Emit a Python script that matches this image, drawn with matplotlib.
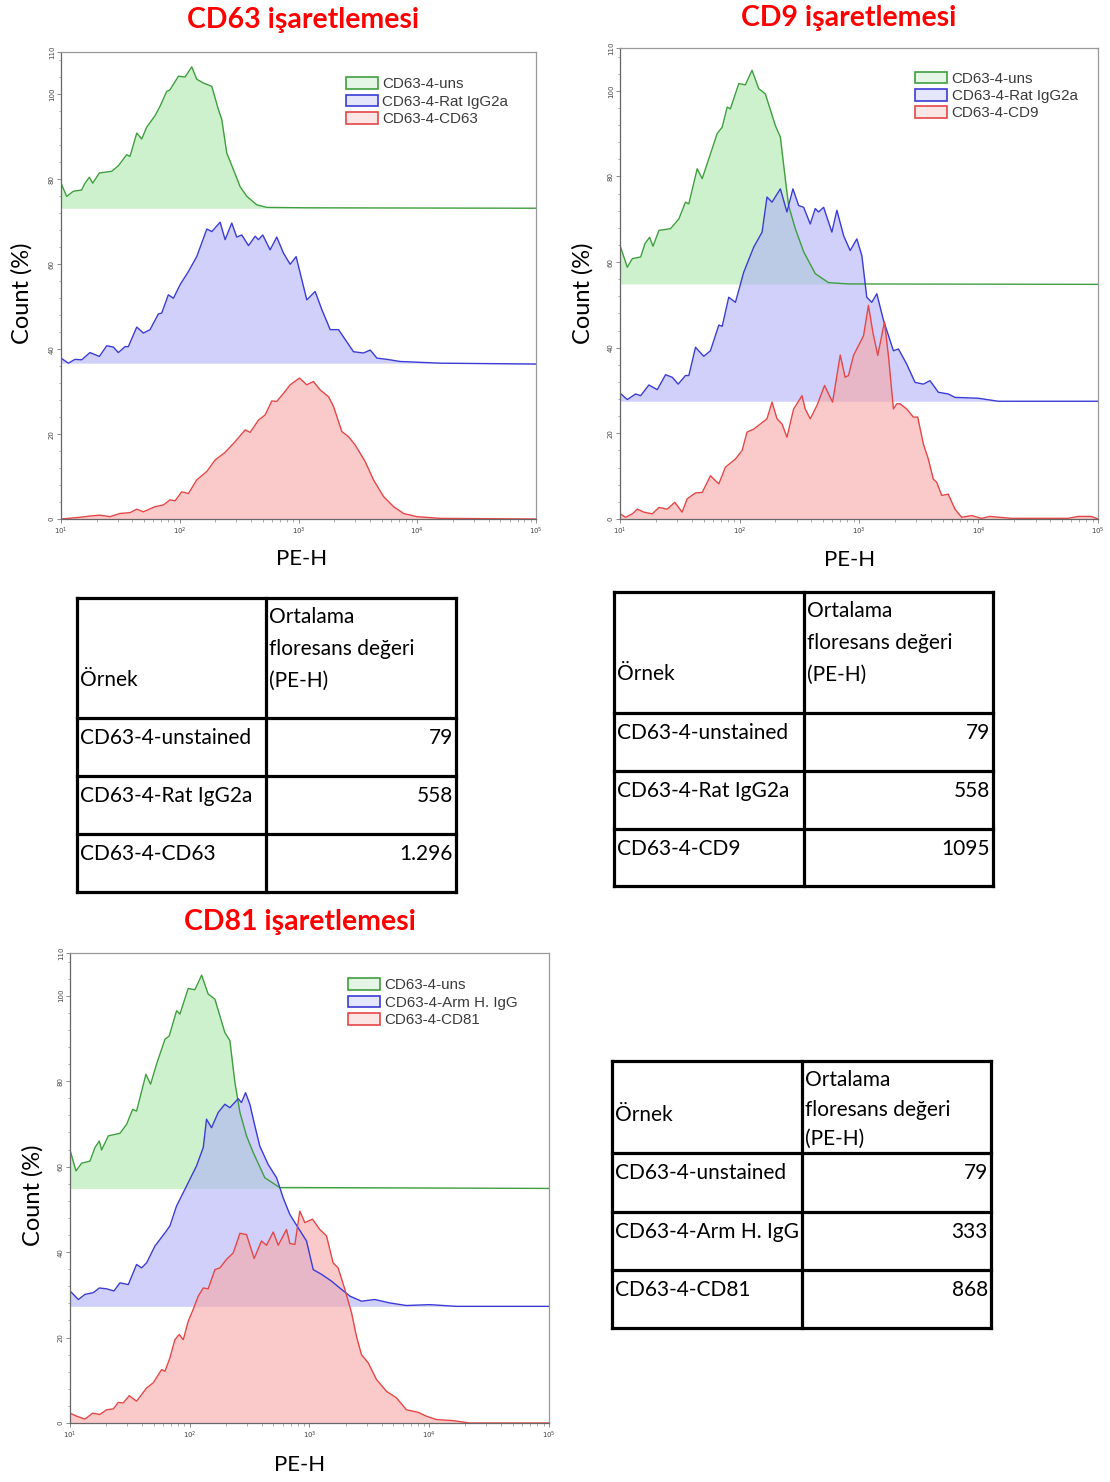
import numpy as np
import matplotlib.pyplot as plt
from matplotlib.patches import Patch
from matplotlib.ticker import MultipleLocator, FixedLocator, LogLocator, NullFormatter

# ---------------- data (x as log10 PE-H, y as count % incl. overlay offset) -------------
# CD63 panel
cd63_uns_x = [1.0, 1.048, 1.104, 1.174, 1.202, 1.239, 1.267, 1.323, 1.427, 1.483, 1.553, 1.581, 1.638, 1.680,
              1.722, 1.792, 1.834, 1.890, 1.918, 1.989, 2.045, 2.101, 2.143, 2.199, 2.270, 2.326, 2.354, 2.396,
              2.452, 2.508, 2.565, 2.649, 2.733, 3.07, 5.0]
cd63_uns_y = [79.1, 76.0, 77.2, 77.5, 79.1, 80.5, 79.1, 81.5, 81.9, 83.2, 85.8, 85.4, 90.9, 89.5,
              92.3, 95.0, 97.2, 100.7, 101.1, 104.3, 104.1, 106.5, 103.6, 102.7, 101.9, 96.4, 94.1, 86.2,
              82.3, 78.3, 76.0, 74.0, 73.4, 73.3, 73.2]
cd63_rat_x = [1.0, 1.062, 1.118, 1.174, 1.244, 1.323, 1.385, 1.441, 1.483, 1.539, 1.567, 1.638, 1.694, 1.750,
              1.820, 1.848, 1.904, 1.947, 2.003, 2.073, 2.143, 2.228, 2.270, 2.340, 2.382, 2.438, 2.480, 2.522,
              2.579, 2.635, 2.663, 2.699, 2.761, 2.817, 2.874, 2.930, 2.980, 3.070, 3.140, 3.197, 3.267, 3.337,
              3.463, 3.548, 3.604, 3.660, 3.744, 3.857, 4.194, 5.0]
cd63_rat_y = [37.9, 36.7, 37.6, 37.5, 39.2, 38.3, 40.8, 40.5, 39.2, 40.6, 40.6, 45.2, 43.8, 44.6,
              48.3, 48.5, 52.8, 52.0, 55.2, 58.3, 61.8, 68.3, 67.7, 69.9, 65.8, 69.7, 66.4, 66.9,
              64.4, 66.6, 65.8, 66.9, 63.4, 66.4, 62.6, 60.0, 61.8, 51.6, 53.6, 49.3, 44.6, 44.6,
              39.4, 39.1, 39.8, 37.9, 37.6, 37.1, 36.7, 36.5]
cd63_cd63_x = [1.0, 1.16, 1.244, 1.329, 1.413, 1.497, 1.581, 1.638, 1.694, 1.792, 1.862, 1.918, 1.961, 2.017,
               2.073, 2.143, 2.228, 2.298, 2.382, 2.466, 2.551, 2.593, 2.663, 2.719, 2.775, 2.817, 2.874, 2.930,
               3.008, 3.070, 3.126, 3.183, 3.253, 3.295, 3.365, 3.421, 3.478, 3.562, 3.632, 3.716, 3.801, 3.885,
               3.997, 4.194, 5.0]
cd63_cd63_y = [0.0, 0.4, 0.7, 0.9, 0.55, 1.3, 1.5, 2.3, 1.7, 2.9, 3.3, 4.5, 4.3, 6.4,
               6.0, 9.2, 11.2, 13.9, 15.7, 18.2, 21.0, 20.4, 23.3, 24.5, 27.8, 27.7, 29.6, 31.6,
               33.2, 31.6, 32.4, 30.4, 28.8, 26.5, 20.6, 19.4, 17.4, 13.5, 9.2, 5.3, 2.9, 1.3,
               0.55, 0.15, 0.0]
cd63_base = [73.2, 36.7, 0.0]

# CD9 panel
cd9_uns_x = [1.0, 1.061, 1.103, 1.173, 1.209, 1.248, 1.276, 1.326, 1.423, 1.493, 1.548, 1.576, 1.646, 1.688,
             1.743, 1.813, 1.855, 1.897, 1.924, 1.994, 2.049, 2.105, 2.161, 2.216, 2.300, 2.342, 2.383, 2.411,
             2.467, 2.537, 2.634, 2.745, 2.912, 5.0]
cd9_uns_y = [63.9, 58.8, 60.8, 61.2, 64.3, 65.8, 63.7, 67.4, 67.8, 70.1, 74.0, 73.6, 81.8, 79.5,
             84.1, 90.0, 91.5, 96.2, 95.8, 101.7, 101.4, 104.8, 100.5, 99.3, 91.9, 89.2, 79.5, 73.2,
             67.8, 62.4, 57.3, 55.2, 54.9, 54.8]
cd9_rat_x = [1.0, 1.061, 1.131, 1.173, 1.242, 1.312, 1.381, 1.437, 1.487, 1.548, 1.576, 1.632, 1.701, 1.757,
             1.827, 1.855, 1.910, 1.966, 2.035, 2.119, 2.189, 2.230, 2.272, 2.342, 2.397, 2.447, 2.495, 2.537,
             2.592, 2.634, 2.662, 2.704, 2.773, 2.815, 2.871, 2.926, 2.982, 3.024, 3.065, 3.107, 3.149, 3.205,
             3.288, 3.330, 3.399, 3.469, 3.539, 3.594, 3.664, 3.747, 3.803, 3.998, 4.165, 5.0]
cd9_rat_y = [29.4, 27.9, 29.2, 28.8, 31.3, 30.2, 33.7, 33.1, 31.5, 33.5, 33.5, 40.1, 38.0, 39.3,
             45.3, 45.0, 51.8, 50.6, 57.6, 63.5, 67.0, 75.2, 74.0, 77.1, 71.7, 77.1, 73.2, 72.8,
             68.9, 72.5, 71.7, 72.8, 67.0, 72.1, 66.2, 62.7, 65.4, 61.5, 51.8, 50.6, 52.6, 46.4,
             39.3, 39.7, 36.2, 31.9, 31.5, 32.3, 29.6, 29.2, 28.4, 28.2, 27.5, 27.5]
cd9_cd9_x = [1.0, 1.047, 1.103, 1.145, 1.200, 1.270, 1.326, 1.395, 1.459, 1.520, 1.562, 1.632, 1.688, 1.757,
             1.827, 1.882, 1.966, 2.022, 2.063, 2.119, 2.175, 2.230, 2.272, 2.314, 2.356, 2.397, 2.453, 2.523,
             2.550, 2.592, 2.648, 2.712, 2.745, 2.779, 2.843, 2.884, 2.912, 2.954, 2.996, 3.038, 3.079, 3.116,
             3.157, 3.213, 3.246, 3.288, 3.316, 3.344, 3.399, 3.455, 3.491, 3.539, 3.580, 3.622, 3.650, 3.692,
             3.747, 3.803, 3.859, 3.942, 4.026, 4.095, 4.276, 4.749, 4.833, 4.944, 5.0]
cd9_cd9_y = [1.2, 0.4, 1.2, 2.3, 1.6, 1.2, 2.7, 2.3, 3.9, 1.6, 4.7, 6.1, 6.2, 10.1,
             8.2, 12.1, 14.0, 16.0, 20.3, 21.0, 22.2, 23.4, 27.3, 23.4, 22.2, 19.1, 25.7, 28.8,
             25.7, 23.4, 26.5, 31.2, 29.2, 27.3, 38.3, 33.1, 33.5, 38.2, 40.5, 42.8, 49.9, 43.6,
             38.2, 46.0, 38.2, 25.7, 26.9, 26.9, 25.7, 23.8, 23.8, 17.5, 14.0, 9.3, 8.6, 5.5,
             5.8, 2.3, 0.4, 0.8, 0.15, 0.6, 0.15, 0.15, 0.6, 0.6, 0.0]
cd9_base = [54.9, 27.5, 0.0]

# CD81 panel
cd81_uns_x = [1.0, 1.050, 1.097, 1.167, 1.209, 1.245, 1.264, 1.320, 1.417, 1.473, 1.523, 1.556, 1.634, 1.673,
              1.723, 1.793, 1.829, 1.890, 1.918, 1.987, 2.043, 2.099, 2.154, 2.210, 2.293, 2.335, 2.377, 2.419,
              2.474, 2.530, 2.627, 2.752, 2.919, 5.0]
cd81_uns_y = [63.9, 59.0, 60.8, 61.3, 64.5, 66.0, 63.9, 67.2, 67.8, 69.9, 73.4, 73.0, 81.6, 79.3,
              84.0, 89.8, 90.6, 96.5, 95.7, 101.7, 101.4, 104.8, 100.4, 99.2, 91.4, 89.5, 79.7, 72.7,
              67.2, 63.3, 57.4, 55.1, 55.1, 54.9]
cd81_arm_x = [1.0, 1.070, 1.125, 1.195, 1.245, 1.306, 1.367, 1.417, 1.487, 1.556, 1.598, 1.640, 1.709, 1.793,
              1.834, 1.890, 1.974, 2.057, 2.113, 2.140, 2.182, 2.238, 2.293, 2.335, 2.405, 2.432, 2.466, 2.502,
              2.544, 2.585, 2.655, 2.725, 2.780, 2.836, 2.905, 2.975, 3.031, 3.100, 3.184, 3.253, 3.337, 3.434,
              3.545, 3.670, 3.809, 4.004, 4.227, 5.0]
cd81_arm_y = [30.9, 28.9, 30.1, 30.5, 31.6, 31.4, 30.9, 32.8, 32.4, 37.1, 36.3, 37.5, 41.4, 44.5,
              46.1, 50.8, 55.5, 60.2, 64.5, 71.1, 69.1, 72.7, 74.6, 73.8, 75.9, 75.0, 77.3, 74.6,
              69.5, 64.8, 60.5, 57.4, 52.7, 48.8, 45.7, 42.6, 35.9, 34.8, 33.2, 31.6, 29.7, 28.5,
              28.9, 28.1, 27.5, 27.7, 27.3, 27.3]
cd81_cd81_x = [1.0, 1.056, 1.125, 1.189, 1.250, 1.306, 1.362, 1.403, 1.445, 1.495, 1.556, 1.640, 1.695, 1.765,
               1.793, 1.834, 1.876, 1.912, 1.946, 1.987, 2.029, 2.071, 2.113, 2.154, 2.210, 2.252, 2.307, 2.363,
               2.419, 2.474, 2.538, 2.599, 2.641, 2.697, 2.739, 2.808, 2.836, 2.878, 2.919, 2.961, 3.025, 3.086,
               3.142, 3.197, 3.239, 3.295, 3.351, 3.392, 3.434, 3.490, 3.559, 3.643, 3.726, 3.809, 3.907, 3.976,
               4.060, 4.199, 4.338, 5.0]
cd81_cd81_y = [2.3, 1.6, 0.9, 2.3, 2.0, 3.1, 3.3, 4.8, 4.7, 6.4, 5.1, 8.2, 9.4, 12.5,
               12.1, 15.2, 19.5, 20.7, 19.5, 23.8, 26.6, 29.7, 31.6, 31.4, 35.9, 36.3, 38.3, 39.8,
               44.4, 44.1, 38.5, 42.6, 41.6, 44.7, 41.6, 45.3, 42.0, 41.8, 49.6, 46.9, 47.7, 45.3,
               43.8, 37.5, 36.3, 31.3, 25.8, 20.3, 16.0, 14.1, 10.2, 7.4, 5.9, 3.1, 2.5, 1.6,
               0.8, 0.55, 0.0, 0.0]
cd81_base = [54.9, 27.3, 0.0]

cd63_labels = ['CD63-4-uns', 'CD63-4-Rat IgG2a', 'CD63-4-CD63']
cd9_labels = ['CD63-4-uns', 'CD63-4-Rat IgG2a', 'CD63-4-CD9']
cd81_labels = ['CD63-4-uns', 'CD63-4-Arm H. IgG', 'CD63-4-CD81']

# tables
table_header = ['Örnek', 'Ortalama\nfloresans değeri\n(PE-H)']
t1_samples = ['CD63-4-unstained', 'CD63-4-Rat IgG2a', 'CD63-4-CD63']
t1_values = ['79', '558', '1.296']
t2_samples = ['CD63-4-unstained', 'CD63-4-Rat IgG2a', 'CD63-4-CD9']
t2_values = ['79', '558', '1095']
t3_samples = ['CD63-4-unstained', 'CD63-4-Arm H. IgG', 'CD63-4-CD81']
t3_values = ['79', '333', '868']

# ---------------- style ----------------
line_cols = ['#3f9e3f', '#3b3bd6', '#e54646']
fill_cols = ['#aae9aa', '#b1b1f7', '#f7a7a7']
legend_fill = ['#e6f6e6', '#e6e6fb', '#fbe6e6']
TITLE_RED = '#ff0000'

W, H = 1110, 1482
fig = plt.figure(figsize=(W / 100, H / 100), dpi=100)


def px_axes(l, t, r, b):
    return fig.add_axes([l / W, 1 - b / H, (r - l) / W, (b - t) / H])


def draw_panel(ax, curves, bases, labels, leg_anchor, ylab_xy, xlab_xy):
    for (xs, ys), base, fc in zip(curves, bases, fill_cols):
        ax.fill_between(10 ** np.array(xs), base, ys, color=fc, alpha=0.6, lw=0)
    for (xs, ys), lc in zip(curves, line_cols):
        ax.plot(10 ** np.array(xs), ys, color=lc, lw=1.0)
    ax.set_xscale('log')
    ax.set_xlim(10, 1e5)
    ax.set_ylim(0, 110)
    ax.yaxis.set_major_locator(FixedLocator([0, 20, 40, 60, 80, 100, 110]))
    ax.yaxis.set_minor_locator(MultipleLocator(4))
    ax.xaxis.set_major_locator(LogLocator(base=10, numticks=10))
    ax.xaxis.set_minor_locator(LogLocator(base=10, subs=np.arange(2, 10), numticks=10))
    ax.xaxis.set_minor_formatter(NullFormatter())
    ax.tick_params(axis='both', which='major', labelsize=5, length=3, width=0.6,
                   colors='#777777', labelcolor='#444444', pad=1.5)
    ax.tick_params(axis='both', which='minor', length=1.8, width=0.5, colors='#888888')
    for lab in ax.get_yticklabels():
        lab.set_rotation(90)
        lab.set_va('center')
    for s in ax.spines.values():
        s.set_color('#999999')
        s.set_linewidth(0.9)
    ax.spines['left'].set_color('#666666')
    ax.spines['bottom'].set_color('#666666')

    handles = [Patch(facecolor=lf, edgecolor=lc, lw=1.2, label=lb)
               for lf, lc, lb in zip(legend_fill, line_cols, labels)]
    leg = ax.legend(handles=handles, loc='upper left', bbox_to_anchor=leg_anchor, frameon=False,
                    borderpad=0, handlelength=2.1, handleheight=0.8, handletextpad=0.3,
                    labelspacing=0.22, prop={'family': 'Liberation Sans', 'size': 10.9})
    for t in leg.get_texts():
        t.set_color('#3a3a3a')

    ax.text(ylab_xy[0], ylab_xy[1], 'Count (%)', transform=ax.transAxes, rotation=90,
            ha='center', va='center', fontsize=17, family='Lato')
    ax.text(xlab_xy[0], xlab_xy[1], 'PE-H', transform=ax.transAxes,
            ha='center', va='center', fontsize=16, family='Lato')


ax1 = px_axes(61, 52, 536, 519)
draw_panel(ax1, [(cd63_uns_x, cd63_uns_y), (cd63_rat_x, cd63_rat_y), (cd63_cd63_x, cd63_cd63_y)],
           cd63_base, cd63_labels, (0.584, 0.962), (-0.082, 0.484), (0.507, -0.086))
ax2 = px_axes(620, 48, 1098, 519)
draw_panel(ax2, [(cd9_uns_x, cd9_uns_y), (cd9_rat_x, cd9_rat_y), (cd9_cd9_x, cd9_cd9_y)],
           cd9_base, cd9_labels, (0.602, 0.966), (-0.077, 0.48), (0.481, -0.087))
ax3 = px_axes(70, 953, 549, 1423)
draw_panel(ax3, [(cd81_uns_x, cd81_uns_y), (cd81_arm_x, cd81_arm_y), (cd81_cd81_x, cd81_cd81_y)],
           cd81_base, cd81_labels, (0.565, 0.962), (-0.077, 0.485), (0.48, -0.089))

# titles
for tx, ty, txt in [(303, 20, 'CD63 işaretlemesi'), (849, 18, 'CD9 işaretlemesi'),
                    (300, 922, 'CD81 işaretlemesi')]:
    fig.text(tx / W, 1 - ty / H, txt, color=TITLE_RED, fontsize=20.5, weight='bold',
             family='Lato', ha='center', va='center')

# ---------------- tables ----------------
tab_ax = fig.add_axes([0, 0, 1, 1], zorder=-1)
tab_ax.set_xlim(0, W)
tab_ax.set_ylim(H, 0)
tab_ax.axis('off')


def draw_table(cols, rows, samples, values, hdr_y, lsp):
    lw = 2.3
    for x in cols:
        tab_ax.plot([x, x], [rows[0], rows[-1]], color='black', lw=lw, solid_capstyle='projecting')
    for y in rows:
        tab_ax.plot([cols[0], cols[-1]], [y, y], color='black', lw=lw, solid_capstyle='projecting')
    fs = 15.0
    tab_ax.text(cols[0] + 3, hdr_y[0], table_header[0], ha='left', va='center', fontsize=fs, family='Lato')
    for i, line in enumerate(table_header[1].split('\n')):
        tab_ax.text(cols[1] + 3, hdr_y[1] + i * lsp, line, ha='left', va='center', fontsize=fs, family='Lato')
    for i, (s, v) in enumerate(zip(samples, values)):
        y = rows[i + 1] + 20
        tab_ax.text(cols[0] + 3, y, s, ha='left', va='center', fontsize=fs, family='Lato')
        tab_ax.text(cols[2] - 3, y, v, ha='right', va='center', fontsize=fs, family='Lato')


draw_table([77, 266, 456], [598, 718, 776, 834, 892], t1_samples, t1_values, (680, 617), 32)
draw_table([614, 804, 993], [592, 713, 771, 829, 886], t2_samples, t2_values, (674, 611), 32)
draw_table([612, 802, 991], [1061, 1153, 1212, 1270, 1328], t3_samples, t3_values, (1115, 1080), 29.5)

fig.savefig('out.png', dpi=100)
